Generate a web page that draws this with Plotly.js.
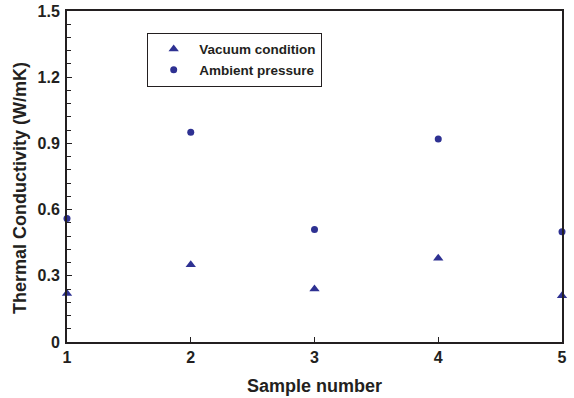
<!DOCTYPE html>
<html>
<head>
<meta charset="utf-8">
<script src="https://cdn.plot.ly/plotly-3.0.1.min.js"></script>
<style>html,body{margin:0;padding:0;background:#fff;}#chart{width:574px;height:398px;}</style>
</head>
<body>
<div id="chart"></div>
<script>
var samples = [1, 2, 3, 4, 5];
var vacuum = [0.22, 0.35, 0.24, 0.38, 0.21];
var ambient = [0.56, 0.95, 0.51, 0.92, 0.50];
var yTicks = [0, 0.3, 0.6, 0.9, 1.2, 1.5];
var yTickText = ['0', '0.3', '0.6', '0.9', '1.2', '1.5'];
var xTickText = ['1', '2', '3', '4', '5'];

var markerColor = '#2E3192';
var ink = '#231f20';
var fontFam = 'Arial, "Liberation Sans", Helvetica, sans-serif';
function b(s) { return '<b>' + s + '</b>'; }

var data = [
  {x: samples, y: vacuum, type: 'scatter', mode: 'markers', name: b('Vacuum condition'),
   cliponaxis: false, marker: {symbol: 'triangle-up', size: 9, color: markerColor}},
  {x: samples, y: ambient, type: 'scatter', mode: 'markers', name: b('Ambient pressure'),
   cliponaxis: false, marker: {symbol: 'circle', size: 7, color: markerColor}}
];

var layout = {
  width: 574, height: 398,
  margin: {l: 67, r: 12, t: 11, b: 56},
  paper_bgcolor: '#fff', plot_bgcolor: '#fff',
  font: {family: fontFam, color: ink},
  showlegend: true,
  legend: {x: 0.162, y: 0.934, xanchor: 'left', yanchor: 'top', itemwidth: 41,
           bordercolor: ink, borderwidth: 1, bgcolor: '#fff',
           font: {size: 13.5, family: fontFam, color: ink}},
  xaxis: {range: [1, 5], tickvals: samples, ticktext: xTickText.map(b), ticks: 'inside', ticklen: 5, tickwidth: 1,
          tickcolor: ink, showline: true, linecolor: ink, linewidth: 2, mirror: true,
          showgrid: false, zeroline: false,
          tickfont: {size: 16, family: fontFam, color: ink},
          title: {text: b('Sample number'), font: {size: 18, family: fontFam, color: ink}, standoff: 14}},
  yaxis: {range: [0, 1.5], tickvals: yTicks, ticktext: yTickText.map(b), ticks: 'inside', ticklen: 5, tickwidth: 1,
          tickcolor: ink, showline: true, linecolor: ink, linewidth: 2, mirror: true,
          showgrid: false, zeroline: false, ticklabelstandoff: 2,
          minor: {dtick: 0.06, ticks: 'inside', ticklen: 4, tickwidth: 1, tickcolor: ink, showgrid: false},
          tickfont: {size: 16, family: fontFam, color: ink}},
  annotations: [
    {text: b('Thermal Conductivity (W/mK)'), textangle: -90, xref: 'paper', yref: 'paper',
     x: 0, y: 0.465, xshift: -47, xanchor: 'center', yanchor: 'middle', showarrow: false,
     font: {size: 18, family: fontFam, color: ink}}
  ]
};

Plotly.newPlot('chart', data, layout, {displayModeBar: false, staticPlot: true});
</script>
</body>
</html>
